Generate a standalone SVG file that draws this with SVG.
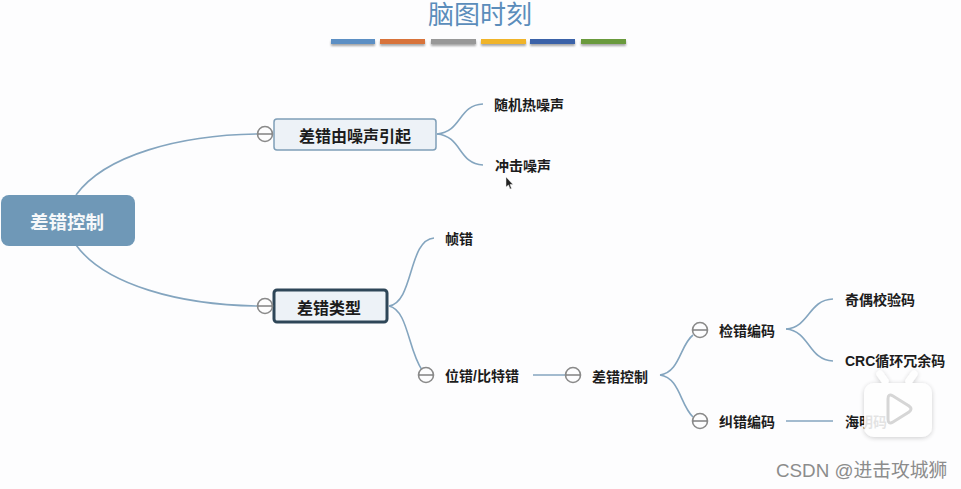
<svg xmlns="http://www.w3.org/2000/svg" width="961" height="489" viewBox="0 0 961 489">
<style>
text{font-family:"Liberation Sans","Noto Sans CJK SC",sans-serif;fill:#1c1c1c;font-weight:700;dominant-baseline:central}
.c{text-anchor:middle}
.s{font-size:14px}
.m{font-size:16px}
.l{fill:none;stroke:#84a5bf;stroke-width:1.6}
.k{fill:#fdfdfe;stroke:#8a8a8a;stroke-width:1.6}
.d{stroke:#6e6e6e;stroke-width:1.3}
</style>
<defs>
<filter id="bs" x="-10%" y="-50%" width="120%" height="250%"><feDropShadow dx="0" dy="2" stdDeviation="1.2" flood-color="#000" flood-opacity=".35"/></filter>
<filter id="ps" x="-20%" y="-20%" width="140%" height="140%"><feDropShadow dx="0" dy="1" stdDeviation="2.500" flood-color="#000" flood-opacity=".22"/></filter>
<g id="minus"><circle r="7.500" class="k"/><line x1="-7" x2="7" class="d"/></g>
</defs>
<rect width="961" height="489" fill="#fdfdfe"/>
<g id="title">
<text x="480" y="15" class="c" style="font-size:26px;font-weight:400;fill:#5b8dbb">脑图时刻</text>
<g filter="url(#bs)">
<rect x="331" y="39" width="44" height="5" fill="#5b8fc4"/>
<rect x="380" y="39" width="45" height="5" fill="#d8733a"/>
<rect x="431" y="39" width="45" height="5" fill="#989898"/>
<rect x="481" y="39" width="45" height="5" fill="#f0b429"/>
<rect x="530" y="39" width="45" height="5" fill="#3a62a8"/>
<rect x="581" y="39" width="45" height="5" fill="#6b9a3e"/>
</g>
</g>
<g id="connectors">
<path class="l" d="M76 195C105 155 180 135 258 134"/>
<path class="l" d="M76 245C105 285 180 305 258 306"/>
<path class="l" d="M437 134C462 132 458 105 483 104"/>
<path class="l" d="M437 134C462 136 458 164 483 165"/>
<path class="l" d="M389 306C414 302 408 240 434 238"/>
<path class="l" d="M389 306C408 310 408 350 422 370"/>
<line class="l" x1="533" y1="375" x2="566" y2="375"/>
<path class="l" d="M660 375C680 372 680 345 693 335"/>
<path class="l" d="M660 375C680 378 680 405 693 417"/>
<path class="l" d="M786 329C810 327 808 300 833 299"/>
<path class="l" d="M786 329C810 331 808 360 833 361"/>
<line class="l" x1="786" y1="421" x2="833" y2="421"/>
</g>
<g id="root"><rect x="1" y="195" width="134" height="51" rx="8" fill="#6f98b7"/><text x="67" y="222" class="c" style="font-size:18.500px;fill:#f6f8fa">差错控制</text></g>
<g id="n1"><rect x="274" y="119" width="162" height="31" rx="3" fill="#edf2f7" stroke="#7f9fb8" stroke-width="1.500"/><text x="355" y="136" class="c m">差错由噪声引起</text><use href="#minus" x="265" y="134"/></g>
<g id="n2"><rect x="274" y="290" width="113" height="32" rx="3" fill="#edf2f7" stroke="#2e4658" stroke-width="3"/><text x="329" y="308" class="c m">差错类型</text><use href="#minus" x="265" y="306"/></g>
<g id="n3"><text x="494" y="105" class="s">随机热噪声</text></g>
<g id="n4"><text x="495" y="166" class="s">冲击噪声</text></g>
<g id="n5"><text x="445" y="239" class="s">帧错</text></g>
<g id="n6"><use href="#minus" x="426" y="375"/><text x="445" y="376" class="s">位错/比特错</text></g>
<g id="n7"><use href="#minus" x="573" y="375"/><text x="592" y="377" class="s">差错控制</text></g>
<g id="n8"><use href="#minus" x="700" y="330"/><text x="719" y="331" class="s">检错编码</text></g>
<g id="n9"><use href="#minus" x="700" y="421"/><text x="719" y="422" class="s">纠错编码</text></g>
<g id="n10"><text x="845" y="300" class="s">奇偶校验码</text></g>
<g id="n11"><text x="845" y="361" class="s">CRC循环冗余码</text></g>
<g id="n12"><text x="845" y="422" class="s">海明码</text></g>
<path id="cursor" d="M506 177V187L508.500 185L510 189L511.500 188.400L510 184.500L513 184.500Z" fill="#222" stroke="#eee" stroke-width=".5"/>
<g id="play">
<g filter="url(#ps)" opacity=".88">
<path d="M885 381L880 374M909 381L914 374" stroke="#fff" stroke-width="7" stroke-linecap="round"/>
<rect x="864" y="383" width="68" height="54" rx="10" fill="#fff"/>
</g>
<path d="M888 399Q888 393 893 396L909 406Q913 409 909 412L893 422Q888 425 888 419Z" fill="#fff" stroke="#d6d6d6" stroke-width="3"/>
</g>
<text id="wm" x="776" y="470" style="font-size:18.800px;font-weight:400;fill:#8c8c8c">CSDN @进击攻城狮</text>
</svg>
